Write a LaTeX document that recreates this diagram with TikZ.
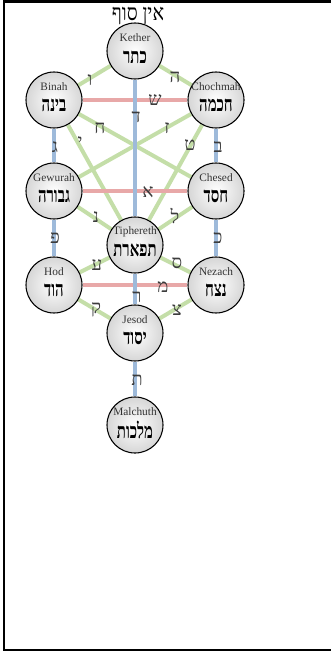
\documentclass[tikz,border=0pt]{standalone}
\usepackage{fontspec}
\setmainfont{Liberation Serif}
\newfontfamily\hebfont[Script=Hebrew]{Liberation Serif}
\newfontfamily\hebnarrow[Script=Hebrew,FakeStretch=0.7]{Liberation Serif}
\newfontfamily\hebtitle[Script=Hebrew,FakeStretch=0.85]{Liberation Serif}
\TeXXeTstate=1
\usetikzlibrary{backgrounds}

\definecolor{pathgreen}{RGB}{196,222,168}
\definecolor{pathred}{RGB}{232,168,168}
\definecolor{pathblue}{RGB}{158,186,218}
\definecolor{lettergray}{RGB}{60,60,60}

\tikzset{every picture/.style={line width=0.75pt}}
\tikzset{
	sephira/.style={circle, draw=black, line width=0.8pt, minimum size=42pt, inner sep=0pt, shading=radial, inner color=white, outer color=gray!32},
	engname/.style={font=\fontsize{8.5}{8.5}\selectfont, text=black!80},
	hebname/.style={font=\hebnarrow\bfseries\fontsize{16}{16}\selectfont},
	letter/.style={font=\hebfont\fontsize{14}{14}\selectfont, text=lettergray},
	greenpath/.style={draw=pathgreen, line width=3pt},
	redpath/.style={draw=pathred, line width=3pt},
	bluepath/.style={draw=pathblue, line width=3pt},
}

\begin{document}
\begin{tikzpicture}[x=0.75pt,y=0.75pt,yscale=-1,xscale=1]
	\useasboundingbox (0,0) rectangle (330,652);

	%Frame
	\draw [line width=2pt] (334,1.5) -- (4,1.5) -- (4,650) -- (334,650) ;

	%Sephiroth
	\node [sephira] (kether) at (135,51) {};
	\node [sephira] (binah) at (54,100) {};
	\node [sephira] (chochmah) at (216,100) {};
	\node [sephira] (gewurah) at (54,191) {};
	\node [sephira] (chesed) at (216,191) {};
	\node [sephira] (tiphereth) at (135,245) {};
	\node [sephira] (hod) at (54,285) {};
	\node [sephira] (nezach) at (216,285) {};
	\node [sephira] (jesod) at (135,333) {};
	\node [sephira] (malchuth) at (135,425) {};

	%Paths
	\begin{scope}[on background layer]
		\draw [greenpath] (kether) -- (binah) ;
		\draw [greenpath] (kether) -- (chochmah) ;
		\draw [greenpath] (binah) -- (chesed) ;
		\draw [greenpath] (chochmah) -- (gewurah) ;
		\draw [greenpath] (binah) -- (tiphereth) ;
		\draw [greenpath] (chochmah) -- (tiphereth) ;
		\draw [greenpath] (gewurah) -- (tiphereth) ;
		\draw [greenpath] (chesed) -- (tiphereth) ;
		\draw [greenpath] (hod) -- (tiphereth) ;
		\draw [greenpath] (nezach) -- (tiphereth) ;
		\draw [greenpath] (hod) -- (jesod) ;
		\draw [greenpath] (nezach) -- (jesod) ;
		\draw [redpath] (binah) -- (chochmah) ;
		\draw [redpath] (gewurah) -- (chesed) ;
		\draw [redpath] (hod) -- (nezach) ;
		\draw [bluepath] (kether) -- (tiphereth) ;
		\draw [bluepath] (binah) -- (gewurah) ;
		\draw [bluepath] (chochmah) -- (chesed) ;
		\draw [bluepath] (gewurah) -- (hod) ;
		\draw [bluepath] (chesed) -- (nezach) ;
		\draw [bluepath] (tiphereth) -- (jesod) ;
		\draw [bluepath] (jesod) -- (malchuth) ;
	\end{scope}

	% Text Node
	\draw (138,16) node [font=\hebtitle\fontsize{17}{17}\selectfont] (ainsoph) {\beginR אין סוף\endR};

	% Text Node
	\draw (135,38) node [engname] {Kether};
	\draw (135,57) node [hebname] {\beginR כתר\endR};
	% Text Node
	\draw (54,87) node [engname] {Binah};
	\draw (54,105) node [hebname] {\beginR בינה\endR};
	% Text Node
	\draw (216,87) node [engname] {Chochmah};
	\draw (216,105) node [hebname] {\beginR חכמה\endR};
	% Text Node
	\draw (54,178) node [engname] {Gewurah};
	\draw (54,196) node [hebname] {\beginR גבורה\endR};
	% Text Node
	\draw (216,178) node [engname] {Chesed};
	\draw (216,196) node [hebname] {\beginR חסד\endR};
	% Text Node
	\draw (135,232) node [engname] {Tiphereth};
	\draw (135,250) node [hebname] {\beginR תפארת\endR};
	% Text Node
	\draw (54,272) node [engname] {Hod};
	\draw (54,290) node [hebname] {\beginR הוד\endR};
	% Text Node
	\draw (216,272) node [engname] {Nezach};
	\draw (216,290) node [hebname] {\beginR נצח\endR};
	% Text Node
	\draw (135,320) node [engname] {Jesod};
	\draw (135,338) node [hebname] {\beginR יסוד\endR};
	% Text Node
	\draw (135,412) node [engname] {Malchuth};
	\draw (135,430) node [hebname] {\beginR מלכות\endR};

	% Path letters
	\draw (90,80) node [letter] {ו};
	\draw (175,77) node [letter] {ה};
	\draw (155,100) node [letter] {ש};
	\draw (136,117) node [letter] {ד};
	\draw (100,128) node [letter] {ח};
	\draw (167,128) node [letter] {ז};
	\draw (80,142) node [letter] {י};
	\draw (190,145) node [letter] {ט};
	\draw (55,147) node [letter] {ג};
	\draw (218,147) node [letter] {ב};
	\draw (148,192) node [letter] {א};
	\draw (96,217) node [letter] {נ};
	\draw (175,216) node [letter] {ל};
	\draw (55,238) node [letter] {פ};
	\draw (218,238) node [letter] {כ};
	\draw (97,265) node [letter] {ע};
	\draw (177,263) node [letter] {ס};
	\draw (163,287) node [letter] {מ};
	\draw (137,297) node [letter] {ר};
	\draw (96,310) node [letter] {ק};
	\draw (177,310) node [letter] {צ};
	\draw (137,380) node [letter] {ת};

\end{tikzpicture}
\end{document}
